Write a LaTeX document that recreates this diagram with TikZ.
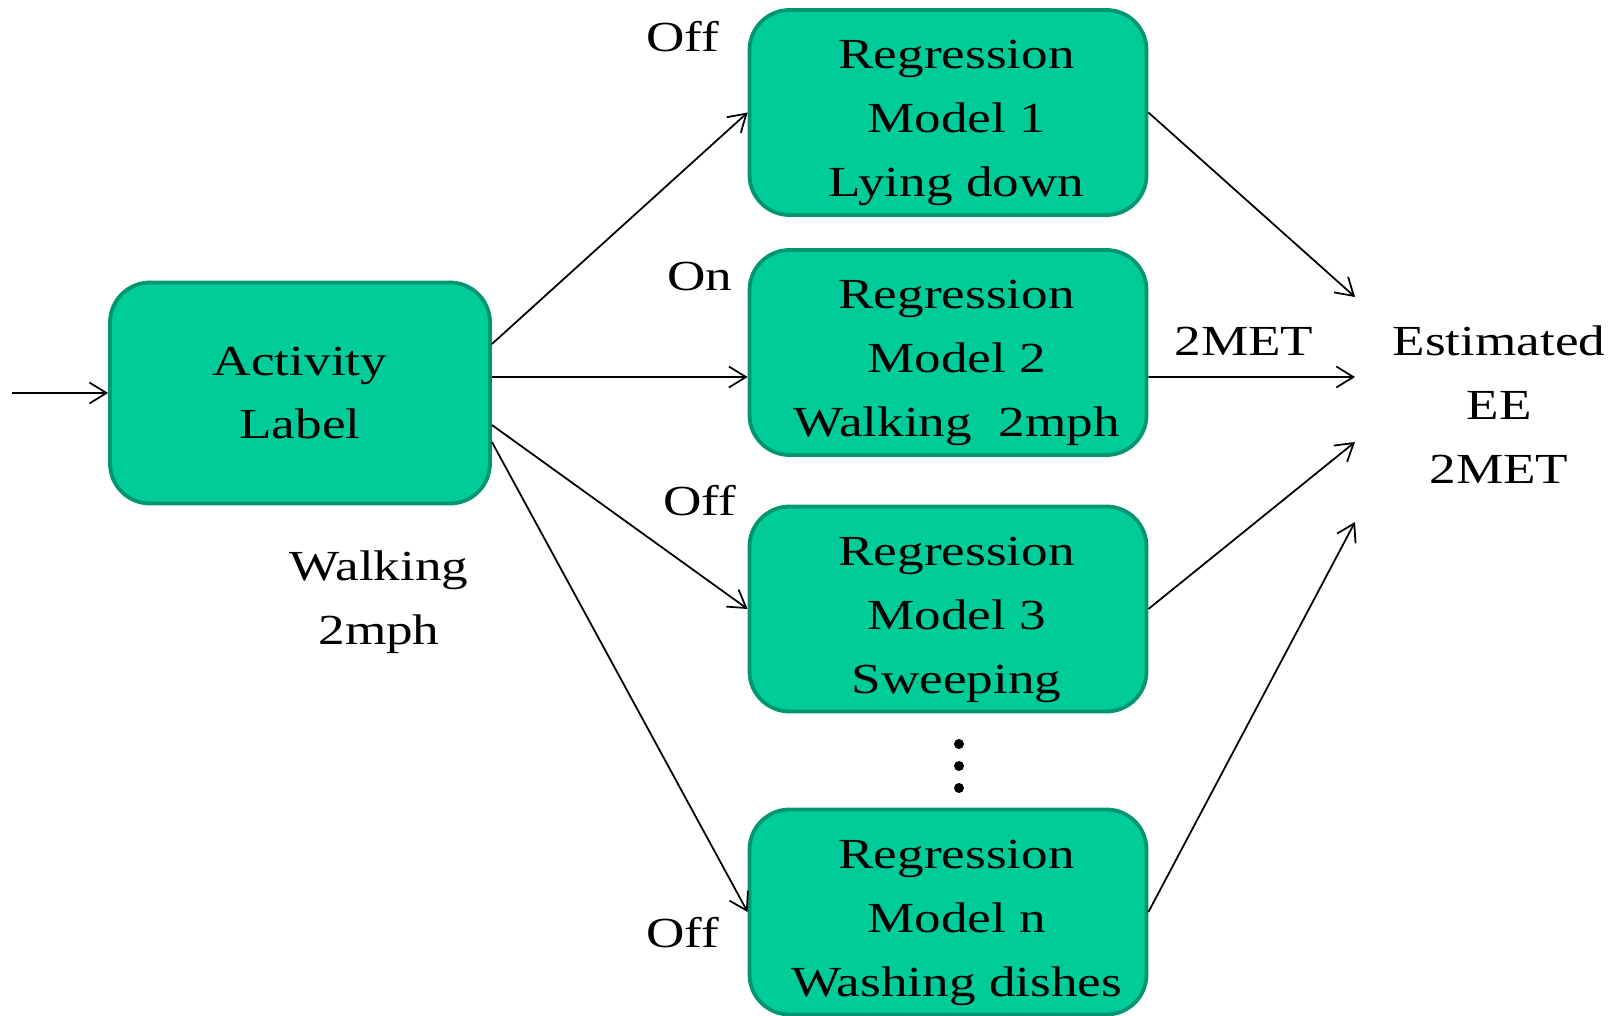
\documentclass[tikz,border=0pt]{standalone}
\usepackage{fontspec}
\setmainfont{Liberation Serif}[FakeStretch=1.24]
\usepackage{tikz}
\usetikzlibrary{arrows.meta, positioning, calc}

\definecolor{boxfill}{RGB}{0,204,153}
\definecolor{boxline}{RGB}{0,150,112}

\tikzset{
  box/.style={draw=boxline, fill=boxfill, line width=2.2pt,
    rounded corners=0.8cm, align=center, inner sep=0pt},
  model/.style={box, minimum width=7.94cm, minimum height=4.1cm},
  lbl/.style={align=center, inner sep=0pt},
  modeltext/.style={lbl, xshift=0.17cm, yshift=-0.21cm},
  conn/.style={->, line width=1pt}
}

\begin{document}
\begin{tikzpicture}[x=0.02cm, y=-0.02cm,
    >={Straight Barb[length=0.34cm, width=0.42cm]},
    font=\fontsize{24.4}{36.4}\selectfont]
  \useasboundingbox (0,0) rectangle (1621,1016);

  % classifier
  \node[box, minimum width=7.6cm, minimum height=4.42cm] (act) at (300,393)
    {Activity\\Label};
  \node[lbl] (walk) at (379,602) {Walking\\2mph};

  % regression models
  \node[model, label={[modeltext]center:{Regression\\Model 1\\Lying down}}]
    (m1) at (948,112.5) {};
  \node[model, label={[modeltext]center:{Regression\\Model 2\\Walking\ \ 2mph}}]
    (m2) at (948,352.5) {};
  \node[model, label={[modeltext]center:{Regression\\Model 3\\Sweeping}}]
    (m3) at (948,609) {};
  \node[model, label={[modeltext]center:{Regression\\Model n\\Washing dishes}}]
    (mn) at (948,912) {};

  \foreach \y in {744,766,788}
    \fill (959,\y) circle (0.1cm);

  % switches
  \node[lbl] (s1) at (683,37) {Off};
  \node[lbl] (s2) at (700,277) {On};
  \node[lbl] (s3) at (700,501) {Off};
  \node[lbl] (sn) at (683,933) {Off};

  % output
  \node[lbl] (est) at (1499,405) {Estimated\\EE\\2MET};
  \node[lbl] (met) at (1244,341) {2MET};
  \coordinate (in) at (12,393);
  \coordinate (e1) at (1355,297);
  \coordinate (e2) at (1355,377);
  \coordinate (e3) at (1355,442);
  \coordinate (e4) at (1355,522);

  \draw[conn] (in) -- (act.west);
  \draw[conn] ([yshift=0.98cm]act.east) -- (m1.west);
  \draw[conn] ([yshift=0.32cm]act.east) -- ([yshift=-0.49cm]m2.west);
  \draw[conn] ([yshift=-0.64cm]act.east) -- (m3.west);
  \draw[conn] ([yshift=-0.98cm]act.east) -- (mn.west);

  \draw[conn] (m1.east) -- (e1);
  \draw[conn] ([yshift=-0.49cm]m2.east) -- (e2);
  \draw[conn] (m3.east) -- (e3);
  \draw[conn] (mn.east) -- (e4);
\end{tikzpicture}
\end{document}
